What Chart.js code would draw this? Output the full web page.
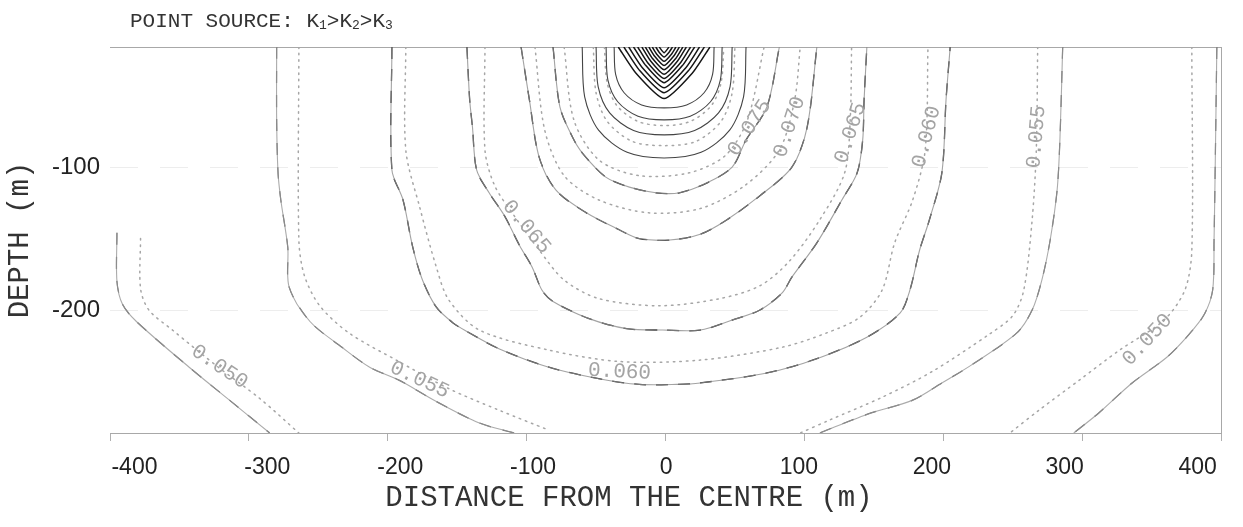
<!DOCTYPE html>
<html><head><meta charset="utf-8">
<script src="https://cdn.jsdelivr.net/npm/chart.js@4.4.1/dist/chart.umd.min.js"></script>
<style>html,body{margin:0;padding:0;background:#fff;}#wrap{width:1243px;height:527px;}</style>
</head><body><div id="wrap"><canvas id="c" width="1243" height="527"></canvas></div>
<script>
// ---- axis ticks ----
const xTicks = [-400, -300, -200, -100, 0, 100, 200, 300, 400];
const yTicks = [-100, -200];
const xRange = [-400, 400];
const yRange = [-286, -16];
// the printed tick labels sit slightly inside the tick marks in the original figure
const xLabelRange = [-418.4, 417.6];

// ---- contour lines (distance m, depth m) ----
const level050Left  = [[-395,-146],[-395,-180],[-391,-196],[-381,-208],[-343,-240],[-314,-263],[-285,-286]];
const level050Right = [[397,-16],[396,-88],[395,-151],[394,-186],[388,-203],[377,-217],[361,-233],[336,-251],[312,-272],[294,-286]];
const level055Left  = [[-280,-16],[-280,-67],[-279,-104],[-277,-123],[-272,-156],[-271,-184],[-256,-208],[-233,-226],[-213,-240],[-192,-249],[-165,-264],[-134,-279],[-109,-286]];
const level055Right = [[286,-16],[284,-81],[282,-116],[277,-151],[271,-179],[264,-200],[253,-216],[221,-238],[199,-251],[178,-263],[145,-273],[111,-286]];
const level060 = [[-197,-16],[-197,-102],[-189,-123],[-182,-156],[-175,-179],[-165,-198],[-153,-209],[-143,-215],[-120,-227],[-84,-240],[-48,-248],[-19,-252],[8,-252],[25,-251],[73,-244],[109,-234],[145,-219],[169,-202],[176,-186],[183,-158],[190,-137],[199,-104],[202,-53],[205,-16]];
const level065 = [[-143,-16],[-141,-53],[-139,-72],[-136,-102],[-127,-118],[-116,-134],[-105,-155],[-96,-170],[-89,-186],[-81,-194],[-55,-206],[-28,-213],[-2,-214],[25,-214],[48,-207],[68,-200],[84,-188],[91,-177],[109,-153],[127,-123],[138,-104],[142,-81],[143,-53],[145,-16]];
const level070 = [[-104,-16],[-98,-53],[-91,-93],[-79,-116],[-57,-132],[-33,-144],[-19,-150],[3,-151],[25,-147],[44,-137],[68,-120],[91,-100],[102,-72],[109,-16]];
const level075 = [[-81,-16],[-76,-58],[-67,-79],[-60,-90],[-43,-107],[-26,-114],[-7,-118],[10,-118],[30,-111],[48,-100],[58,-81],[73,-58],[82,-16]];
const level080 = [[-60,-16],[-58.2,-50.9],[-48.2,-74.2],[-27.6,-89.7],[-1,-93.6],[25.6,-89.7],[46.2,-74.2],[56.2,-50.9],[58,-16]];
const level085 = [[-50,-16],[-48.5,-43.7],[-40.2,-62.1],[-23,-74.4],[-1,-77.5],[21,-74.4],[38.2,-62.1],[46.5,-43.7],[48,-16]];
const level090 = [[-42.8,-16],[-41.5,-39],[-34.4,-54.3],[-19.8,-64.5],[-1,-67],[17.8,-64.5],[32.4,-54.3],[39.5,-39],[40.8,-16]];
const level095 = [[-37,-16],[-35.9,-35.2],[-29.8,-48],[-17.2,-56.5],[-1,-58.6],[15.2,-56.5],[27.8,-48],[33.9,-35.2],[35,-16]];
const level100 = [[-34,-16],[-21.5,-34],[-1,-52],[19.5,-34],[32,-16]];
const level105 = [[-30,-16],[-19,-32],[-1,-48],[17,-32],[28,-16]];
const level110 = [[-26.5,-16],[-16.8,-30.3],[-1,-44.5],[14.8,-30.3],[24.5,-16]];
const level115 = [[-23,-16],[-14.6,-28.5],[-1,-41],[12.6,-28.5],[21,-16]];
const level120 = [[-20,-16],[-12.8,-27],[-1,-38],[10.8,-27],[18,-16]];
const level125 = [[-17,-16],[-10.9,-25.5],[-1,-35],[8.9,-25.5],[15,-16]];
const level130 = [[-14.5,-16],[-9.4,-24],[-1,-32],[7.4,-24],[12.5,-16]];
const level135 = [[-12,-16],[-7.8,-22.5],[-1,-29],[5.8,-22.5],[10,-16]];
const level140 = [[-9.5,-16],[-6.3,-21],[-1,-26],[4.3,-21],[7.5,-16]];
const level145 = [[-7,-16],[-4.7,-19.5],[-1,-23],[2.7,-19.5],[5,-16]];
const level150 = [[-4.5,-16],[-1,-20],[2.5,-16]];

// dotted companion contours
const dot050Left  = [[-378,-150],[-378,-185],[-372,-200],[-355,-214],[-322,-240],[-292,-262],[-264,-286]];
const dot050Right = [[379,-16],[379,-158],[374,-186],[359,-207],[327,-228],[298,-249],[269,-270],[248,-286]];
const dot055Left  = [[-264,-16],[-264,-151],[-260,-176],[-249,-197],[-228,-216],[-192,-236],[-156,-255],[-120,-270],[-84,-284]];
const dot055Right = [[268,-16],[267,-88],[264,-137],[258,-186],[250,-204],[233,-217],[192,-243],[156,-261],[118,-277],[97,-286]];
const dot060 = [[-187,-16],[-187,-88],[-177,-128],[-165,-170],[-156,-193],[-134,-214],[-84,-228],[-33,-236],[25,-235],[84,-226],[116,-216],[140,-205],[156,-186],[165,-153],[178,-123],[187,-88],[189,-16]];
const dot065 = [[-130,-16],[-130,-88],[-123,-113],[-109,-134],[-91,-158],[-73,-179],[-48,-192],[-4,-197],[39,-192],[68,-183],[89,-166],[111,-137],[129,-104],[133,-67],[134,-16]];
const dot070 = [[-94,-16],[-87,-74],[-73,-106],[-48,-123],[-12,-132],[25,-129],[57,-113],[82,-88],[93,-53],[97,-16]];
const dot075 = [[-73,-16],[-66,-67],[-48,-95],[-19,-106],[17,-104],[43,-92],[59,-67],[71,-16]];
const dot080 = [[-52,-16],[-50,-48],[-42,-68],[-24,-82],[-1,-85],[22,-82],[40,-68],[48,-48],[50,-16]];
const dot085 = [[-44,-16],[-42,-41],[-35,-57],[-20,-68],[-1,-71],[18,-68],[33,-57],[40,-41],[42,-16]];

// contour label texts and where they sit [distance, depth, angle]
const labelTexts = ['0.075','0.070','0.065','0.060','0.055','0.050','0.050','0.055','0.065','0.060'];
const labelAnchors = [[60.5,-72.6,-57],[89.3,-71.9,-72],[133.2,-76.1,-72],[187.9,-78.9,-75],[267.1,-78.9,-85],[347,-220.8,-47],[-321.1,-239.7,34],[-177.1,-248.8,25],[-100.1,-141.8,50],[-33.1,-243.2,3]];

// ---- styling groups ----
const outerMain = [level050Left, level050Right, level055Left, level055Right];
const midMain = [level060, level065, level070, level075];
const innerU = [level080, level085, level090, level095];
const innerV = [level100, level105, level110, level115, level120, level125, level130, level135, level140, level145, level150];
const dottedLines = [dot050Left, dot050Right, dot055Left, dot055Right, dot060, dot065, dot070, dot075, dot080, dot085];

const toXY = arr => arr.map(p => ({x: p[0], y: p[1]}));
const base = {showLine: true, pointRadius: 0, pointHoverRadius: 0, fill: false, xAxisID: 'x', yAxisID: 'y'};
const datasets = [];
outerMain.forEach(l => {
  datasets.push({...base, data: toXY(l), borderColor: 'rgba(150,150,150,0.8)', borderWidth: 1.1, tension: 0.3});
  datasets.push({...base, data: toXY(l), borderColor: '#666', borderWidth: 1.2, borderDash: [12, 12], tension: 0.3});
});
midMain.forEach(l => {
  datasets.push({...base, data: toXY(l), borderColor: 'rgba(140,140,140,0.8)', borderWidth: 1.1, tension: 0.3});
  datasets.push({...base, data: toXY(l), borderColor: '#2a2a2a', borderWidth: 1.3, borderDash: [12, 10], tension: 0.3});
});
innerU.forEach(l => {
  datasets.push({...base, data: toXY(l), borderColor: '#444', borderWidth: 1.1, tension: 0.3});
});
innerV.forEach(l => {
  datasets.push({...base, data: toXY(l), borderColor: '#161616', borderWidth: 1.5, tension: 0.2});
});
dottedLines.forEach(l => {
  datasets.push({...base, data: toXY(l), borderColor: '#a6a6a6', borderWidth: 1.5, borderDash: [1.5, 5], borderCapStyle: 'round', tension: 0.3});
});

const labelPlugin = {
  id: 'contourLabels',
  afterDatasetsDraw(chart) {
    const {ctx, scales: {x, y}} = chart;
    ctx.save();
    ctx.font = "21px 'Liberation Mono', monospace";
    ctx.fillStyle = '#a4a4a4';
    ctx.textAlign = 'center';
    ctx.textBaseline = 'middle';
    labelTexts.forEach((t, i) => {
      const a = labelAnchors[i];
      ctx.save();
      ctx.translate(x.getPixelForValue(a[0]), y.getPixelForValue(a[1]));
      ctx.rotate(a[2] * Math.PI / 180);
      ctx.fillText(t, 0, 0);
      ctx.restore();
    });
    ctx.restore();
  }
};

const headerParts = [['POINT SOURCE: K', 0], ['1', 1], ['>K', 0], ['2', 1], ['>K', 0], ['3', 1]];
const xTitle = 'DISTANCE FROM THE CENTRE (m)';
const textPlugin = {
  id: 'texts',
  afterDraw(chart) {
    const ctx = chart.ctx;
    ctx.save();
    ctx.fillStyle = '#333';
    ctx.textAlign = 'left';
    ctx.textBaseline = 'alphabetic';
    let cx = 130;
    headerParts.forEach(([t, sub]) => {
      ctx.font = sub ? "13px 'Liberation Mono', monospace" : "21px 'Liberation Mono', monospace";
      ctx.fillText(t, cx, sub ? 29 : 27);
      cx += ctx.measureText(t).width;
    });
    ctx.font = "29px 'Liberation Mono', monospace";
    ctx.textAlign = 'center';
    ctx.textBaseline = 'middle';
    ctx.fillText(xTitle, 629, 498);
    ctx.restore();
  }
};

new Chart(document.getElementById('c'), {
  type: 'scatter',
  data: {datasets},
  plugins: [labelPlugin, textPlugin],
  options: {
    responsive: false,
    devicePixelRatio: 1,
    animation: false,
    events: [],
    layout: {padding: 0},
    plugins: {legend: {display: false}, tooltip: {enabled: false}, title: {display: false}},
    scales: {
      x: {
        type: 'linear', position: 'bottom', min: xRange[0], max: xRange[1],
        afterBuildTicks: s => { s.ticks = xTicks.map(v => ({value: v})); },
        afterFit: s => { s.height = 10; },
        grid: {display: true, drawOnChartArea: false, drawTicks: true, tickLength: 8, tickColor: '#b0b0b0', color: '#b0b0b0'},
        border: {display: true, color: '#a8a8a8', width: 1},
        ticks: {display: false}
      },
      y: {
        type: 'linear', position: 'left', min: yRange[0], max: yRange[1],
        afterBuildTicks: s => { s.ticks = yTicks.map(v => ({value: v})); },
        afterFit: s => { s.width = 110; },
        grid: {display: true, drawTicks: false, color: 'rgba(0,0,0,0.07)', lineWidth: 1},
        border: {display: false, dash: [28, 22]},
        ticks: {color: '#222', padding: 10, font: {family: "'Liberation Sans', Arial, sans-serif", size: 24}},
        title: {display: true, text: 'DEPTH (m)', color: '#333',
                font: {family: "'Liberation Mono', monospace", size: 29}, padding: {top: 3, bottom: 0}}
      },
      x2: {
        type: 'linear', position: 'top', min: xRange[0], max: xRange[1],
        afterFit: s => { s.height = 47; },
        grid: {display: false}, ticks: {display: false},
        border: {display: true, color: '#a8a8a8', width: 1}
      },
      y2: {
        type: 'linear', position: 'right', min: yRange[0], max: yRange[1],
        afterFit: s => { s.width = 22; },
        grid: {display: false}, ticks: {display: false},
        border: {display: true, color: '#a8a8a8', width: 1}
      },
      xl: {
        type: 'linear', position: 'bottom', min: xLabelRange[0], max: xLabelRange[1],
        afterBuildTicks: s => { s.ticks = xTicks.map(v => ({value: v})); },
        afterFit: s => { s.height = 84; },
        grid: {display: false, drawTicks: false},
        border: {display: false},
        ticks: {color: '#222', padding: 11, maxRotation: 0, autoSkip: false,
                font: {family: "'Liberation Sans', Arial, sans-serif", size: 23}}
      }
    }
  }
});
</script>
</body></html>
